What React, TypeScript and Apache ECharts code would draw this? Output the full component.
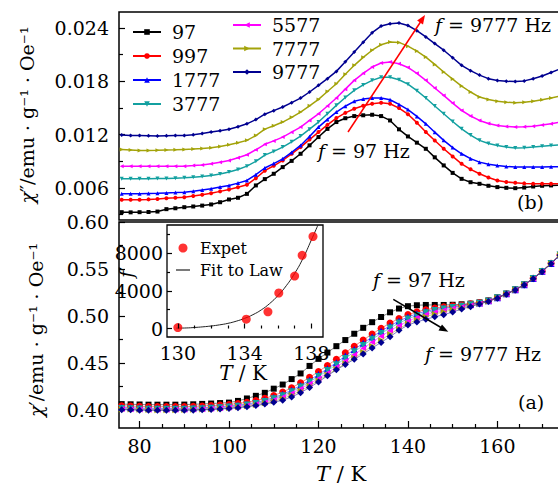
import React, { useEffect, useRef } from 'react';
import * as echarts from 'echarts';

// Temperature (K) of every measured point
const T = [76, 78, 80, 82, 84, 86, 88, 90, 92, 94, 96, 98, 100, 102, 104, 106, 108, 110, 112, 114, 116, 118, 120, 122, 124, 126, 128, 130, 132, 134, 136, 138, 140, 142, 144, 146, 148, 150, 152, 154, 156, 158, 160, 162, 164, 166, 168, 170, 172, 174];

// Panel (b): chi'' (emu g^-1 Oe^-1)
const chi2_97 = [0.00328, 0.00326, 0.00328, 0.0033, 0.00335, 0.00362, 0.00372, 0.00384, 0.00392, 0.00402, 0.00415, 0.0044, 0.00471, 0.0049, 0.00534, 0.00629, 0.007, 0.0076, 0.00835, 0.00905, 0.00985, 0.0108, 0.01173, 0.01265, 0.01342, 0.01385, 0.01409, 0.01418, 0.01424, 0.01409, 0.0136, 0.0126, 0.0118, 0.0111, 0.01041, 0.00945, 0.00854, 0.0077, 0.00703, 0.00665, 0.00647, 0.00625, 0.0061, 0.00602, 0.00598, 0.00605, 0.00617, 0.00625, 0.00629, 0.00632];
const chi2_997 = [0.00467, 0.00467, 0.00468, 0.00472, 0.00477, 0.00484, 0.0049, 0.00497, 0.0051, 0.00525, 0.00542, 0.00562, 0.00584, 0.00608, 0.00636, 0.0071, 0.00795, 0.0085, 0.0091, 0.00985, 0.0106, 0.01145, 0.01229, 0.0131, 0.01387, 0.01445, 0.01491, 0.01525, 0.01548, 0.01559, 0.01548, 0.01499, 0.0143, 0.01335, 0.01229, 0.01135, 0.01041, 0.00955, 0.00872, 0.0081, 0.0076, 0.00718, 0.00685, 0.00668, 0.00658, 0.00652, 0.00647, 0.00647, 0.00647, 0.00647];
const chi2_1777 = [0.00534, 0.00534, 0.00534, 0.00537, 0.0054, 0.00544, 0.00548, 0.00553, 0.00564, 0.00577, 0.00591, 0.0061, 0.00629, 0.00655, 0.00685, 0.0075, 0.00825, 0.00875, 0.00928, 0.01, 0.01079, 0.0118, 0.01285, 0.01372, 0.01454, 0.0152, 0.01575, 0.016, 0.01612, 0.01612, 0.01593, 0.0154, 0.01482, 0.01405, 0.01322, 0.01228, 0.01136, 0.01055, 0.00985, 0.0093, 0.00891, 0.00868, 0.00854, 0.00842, 0.00835, 0.00835, 0.00835, 0.00836, 0.00838, 0.0084];
const chi2_3777 = [0.00703, 0.00703, 0.00703, 0.00704, 0.00706, 0.00708, 0.00711, 0.00714, 0.00722, 0.0073, 0.00741, 0.00758, 0.00779, 0.00808, 0.00846, 0.009, 0.0097, 0.01012, 0.0106, 0.0112, 0.01184, 0.01262, 0.01342, 0.01435, 0.0153, 0.01618, 0.01699, 0.0176, 0.01811, 0.01845, 0.01845, 0.01818, 0.01768, 0.01695, 0.01612, 0.01522, 0.01435, 0.01348, 0.01266, 0.01195, 0.01136, 0.011, 0.01079, 0.0106, 0.01049, 0.01052, 0.0106, 0.0107, 0.01079, 0.01086];
const chi2_5577 = [0.00846, 0.00845, 0.00844, 0.00844, 0.00845, 0.00845, 0.00846, 0.00846, 0.00852, 0.0086, 0.00872, 0.0089, 0.0091, 0.0094, 0.00974, 0.0103, 0.01092, 0.0113, 0.01173, 0.01228, 0.01285, 0.0136, 0.01435, 0.01522, 0.01612, 0.01712, 0.01811, 0.0189, 0.01961, 0.02006, 0.02017, 0.01998, 0.01956, 0.0189, 0.01811, 0.01725, 0.01642, 0.01555, 0.01473, 0.0141, 0.0136, 0.01325, 0.01304, 0.01292, 0.01285, 0.01288, 0.01296, 0.01308, 0.01322, 0.0134];
const chi2_7777 = [0.01034, 0.01028, 0.01022, 0.01022, 0.01024, 0.01028, 0.0103, 0.01034, 0.01038, 0.01044, 0.01052, 0.01068, 0.01086, 0.01108, 0.01136, 0.0119, 0.01262, 0.013, 0.01342, 0.01395, 0.01454, 0.01525, 0.01597, 0.01685, 0.01773, 0.0188, 0.0198, 0.0207, 0.0215, 0.02212, 0.02242, 0.02238, 0.02196, 0.0214, 0.02073, 0.0199, 0.01905, 0.01825, 0.01747, 0.0168, 0.01623, 0.01595, 0.01575, 0.01565, 0.01559, 0.01565, 0.01575, 0.01592, 0.01612, 0.01634];
const chi2_9777 = [0.01196, 0.01192, 0.0119, 0.01188, 0.01186, 0.01188, 0.0119, 0.01192, 0.012, 0.01212, 0.01229, 0.01244, 0.01262, 0.0129, 0.01322, 0.0137, 0.0143, 0.0147, 0.01511, 0.0156, 0.01612, 0.0168, 0.01755, 0.0183, 0.01912, 0.0202, 0.0213, 0.0224, 0.02347, 0.02422, 0.02448, 0.02456, 0.02428, 0.0237, 0.023, 0.02225, 0.0215, 0.02065, 0.0198, 0.0192, 0.0187, 0.0183, 0.0181, 0.018, 0.01798, 0.01805, 0.0183, 0.0186, 0.019, 0.0194];

// Panel (a): chi' (emu g^-1 Oe^-1)
const chi1_97 = [0.4064, 0.4062, 0.406, 0.4058, 0.4058, 0.4058, 0.4058, 0.4059, 0.4062, 0.4066, 0.407, 0.4075, 0.408, 0.4098, 0.4124, 0.4152, 0.4184, 0.4228, 0.4272, 0.433, 0.439, 0.447, 0.4545, 0.4612, 0.468, 0.4745, 0.4812, 0.4875, 0.4935, 0.499, 0.504, 0.508, 0.5105, 0.5115, 0.5118, 0.5118, 0.5118, 0.512, 0.5125, 0.5132, 0.5145, 0.5165, 0.5198, 0.5238, 0.5282, 0.5336, 0.5402, 0.5478, 0.5562, 0.5652];
const chi1_997 = [0.4045, 0.4043, 0.404, 0.4038, 0.4037, 0.4037, 0.4037, 0.4038, 0.404, 0.4044, 0.4048, 0.4053, 0.406, 0.407, 0.4084, 0.4102, 0.4125, 0.4155, 0.4192, 0.4238, 0.429, 0.4348, 0.441, 0.4475, 0.454, 0.461, 0.468, 0.4745, 0.481, 0.487, 0.4925, 0.4975, 0.5015, 0.5045, 0.5068, 0.5085, 0.5098, 0.5108, 0.5118, 0.513, 0.5145, 0.5165, 0.5197, 0.5237, 0.5281, 0.5335, 0.5401, 0.5477, 0.5561, 0.5651];
const chi1_1777 = [0.4028, 0.4025, 0.4022, 0.402, 0.4019, 0.4019, 0.4019, 0.402, 0.4022, 0.4025, 0.403, 0.4036, 0.4043, 0.4052, 0.4065, 0.4082, 0.4104, 0.4133, 0.4168, 0.4212, 0.4262, 0.4318, 0.4378, 0.444, 0.4505, 0.4575, 0.4645, 0.4712, 0.4778, 0.484, 0.4897, 0.4948, 0.499, 0.5025, 0.505, 0.507, 0.5085, 0.5098, 0.511, 0.5124, 0.514, 0.5162, 0.5196, 0.5236, 0.528, 0.5334, 0.54, 0.5476, 0.556, 0.565];
const chi1_3777 = [0.4018, 0.4015, 0.4012, 0.401, 0.4009, 0.4009, 0.4009, 0.401, 0.4012, 0.4015, 0.402, 0.4026, 0.4033, 0.4042, 0.4055, 0.4071, 0.4092, 0.412, 0.4154, 0.4196, 0.4245, 0.43, 0.4358, 0.442, 0.4483, 0.455, 0.462, 0.4687, 0.4753, 0.4815, 0.4873, 0.4925, 0.497, 0.5007, 0.5035, 0.5058, 0.5076, 0.5091, 0.5105, 0.512, 0.5137, 0.516, 0.5195, 0.5235, 0.5279, 0.5333, 0.5399, 0.5475, 0.5559, 0.5649];
const chi1_5577 = [0.4012, 0.401, 0.4007, 0.4005, 0.4004, 0.4004, 0.4004, 0.4005, 0.4007, 0.401, 0.4015, 0.402, 0.4027, 0.4036, 0.4048, 0.4063, 0.4082, 0.4108, 0.414, 0.418, 0.4227, 0.428, 0.4336, 0.4396, 0.4458, 0.4522, 0.459, 0.4657, 0.4722, 0.4785, 0.4845, 0.4898, 0.4946, 0.4985, 0.5016, 0.5041, 0.5062, 0.508, 0.5096, 0.5113, 0.5132, 0.5157, 0.5193, 0.5234, 0.5278, 0.5332, 0.5398, 0.5474, 0.5558, 0.5648];
const chi1_7777 = [0.4008, 0.4006, 0.4003, 0.4001, 0.4, 0.4, 0.4, 0.4001, 0.4003, 0.4006, 0.401, 0.4015, 0.4022, 0.403, 0.4041, 0.4055, 0.4072, 0.4095, 0.4123, 0.416, 0.4205, 0.4258, 0.4316, 0.4376, 0.4436, 0.4495, 0.4556, 0.4618, 0.4682, 0.4746, 0.4808, 0.4866, 0.492, 0.4962, 0.4995, 0.5022, 0.5045, 0.5067, 0.5088, 0.5108, 0.513, 0.5155, 0.5192, 0.5233, 0.5277, 0.5331, 0.5397, 0.5473, 0.5557, 0.5647];
const chi1_9777 = [0.4005, 0.4003, 0.4, 0.3998, 0.3998, 0.3998, 0.3998, 0.3999, 0.4, 0.4003, 0.4007, 0.4012, 0.4018, 0.4025, 0.4035, 0.4048, 0.4064, 0.4083, 0.4106, 0.414, 0.4185, 0.424, 0.43, 0.4365, 0.4428, 0.4485, 0.454, 0.4598, 0.466, 0.472, 0.478, 0.4848, 0.4905, 0.4938, 0.4965, 0.4992, 0.5015, 0.5042, 0.5075, 0.51, 0.5128, 0.5155, 0.519, 0.5232, 0.5276, 0.533, 0.5396, 0.5472, 0.5556, 0.5646];

// Inset: peak temperature vs frequency
const insetT = [130.0, 134.1, 135.4, 136.05, 137.0, 137.45, 138.1];
const insetF = [97, 997, 1777, 3777, 5577, 7777, 9777];
const fitT = [129.9, 130.5, 131, 131.5, 132, 132.5, 133, 133.5, 134, 134.5, 135, 135.5, 136, 136.5, 137, 137.5, 138, 138.4];
const fitF = [40, 60, 110, 180, 270, 390, 550, 780, 1080, 1470, 1980, 2650, 3500, 4550, 5850, 7450, 9400, 11000];

// Tick values
const xMajor = [80, 100, 120, 140, 160];
const xMinor = [85, 90, 95, 105, 110, 115, 125, 130, 135, 145, 150, 155, 165, 170];
const yTopMajor = [0.006, 0.012, 0.018, 0.024];
const yTopMinor = [0.003, 0.009, 0.015, 0.021];
const yBotMajor = [0.4, 0.45, 0.5, 0.55, 0.6];
const yBotMinor = [0.425, 0.475, 0.525, 0.575];
const inXMajor = [130, 134, 138];
const inXMinor = [131, 132, 133, 135, 136, 137];
const inYMajor = [0, 4000, 8000];
const inYMinor = [2000, 6000, 10000];

const names = ['97', '997', '1777', '3777', '5577', '7777', '9777'];
const topData = [chi2_97, chi2_997, chi2_1777, chi2_3777, chi2_5577, chi2_7777, chi2_9777];
const botData = [chi1_97, chi1_997, chi1_1777, chi1_3777, chi1_5577, chi1_7777, chi1_9777];

const FONT = 'DejaVu Serif';
const STY = [
  { color: '#000000', symbol: 'rect', rot: 0, bs: 6 },
  { color: '#ff0000', symbol: 'circle', rot: 0, bs: 7 },
  { color: '#0000ff', symbol: 'triangle', rot: 0, bs: 7 },
  { color: '#13a0a0', symbol: 'triangle', rot: 180, bs: 7 },
  { color: '#ff00ff', symbol: 'triangle', rot: 90, bs: 6 },
  { color: '#a3a30a', symbol: 'triangle', rot: -90, bs: 6 },
  { color: '#000090', symbol: 'diamond', rot: 0, bs: 7 },
];

const pairs = (xs: number[], ys: number[]) => xs.map((x, i) => [x, ys[i]]);
const txt = { fontFamily: FONT, fontSize: 19, color: '#000' };
const italicRich = (size: number) => ({ i: { fontFamily: FONT, fontSize: size, fontStyle: 'italic', fill: '#000', color: '#000' }, n: { fontFamily: FONT, fontSize: size, fill: '#000', color: '#000' } });

function tickAxis(grid: number, min: number, max: number, major: number[], minor: number[], isX: boolean, fmt: (v: number) => string, labelMargin: number, majorLen: number, minorLen: number, z = 0) {
  const base = {
    type: 'value', gridIndex: grid, min, max, z,
    position: isX ? 'bottom' : 'left',
    axisLine: { show: false },
    splitLine: { show: false },
  };
  return [
    {
      ...base,
      axisTick: { show: true, inside: true, length: majorLen, customValues: major, lineStyle: { color: '#000', width: 1.2 } },
      axisLabel: { show: true, customValues: major, formatter: fmt, margin: labelMargin, ...txt },
    },
    {
      ...base,
      axisTick: { show: true, inside: true, length: minorLen, customValues: minor, lineStyle: { color: '#000', width: 1.2 } },
      axisLabel: { show: false },
    },
  ];
}

function richText(x: number, y: number, text: string, size: number, rotation = 0, align = 'left') {
  return {
    type: 'text', x, y, z: 100, rotation,
    style: {
      text, rich: italicRich(size),
      fontFamily: FONT, fontSize: size, fill: '#000', align, verticalAlign: 'middle',
    },
  };
}

function buildOption() {
  const topSeries = names.map((n, k) => ({
    type: 'line', name: n, xAxisIndex: 0, yAxisIndex: 0,
    data: pairs(T, topData[k]),
    symbol: STY[k].symbol, symbolRotate: STY[k].rot, symbolSize: 4, showAllSymbol: true,
    itemStyle: { color: STY[k].color },
    lineStyle: { color: STY[k].color, width: 1.5 },
    z: 3 + k,
  }));
  const botSeries = names.map((n, k) => ({
    type: 'line', name: n, xAxisIndex: 1, yAxisIndex: 2,
    data: pairs(T, botData[k]),
    symbol: STY[k].symbol, symbolRotate: STY[k].rot, symbolSize: STY[k].bs, showAllSymbol: true,
    itemStyle: { color: STY[k].color },
    lineStyle: { color: STY[k].color, width: 1, opacity: 0.5 },
    z: 3 + k,
  }));
  const xTop = {
    type: 'value', gridIndex: 0, min: 75.4, max: 174, position: 'bottom',
    axisLine: { show: false }, axisTick: { show: false }, axisLabel: { show: false }, splitLine: { show: false },
  };
  const xBot = tickAxis(1, 75.4, 174, xMajor, xMinor, true, (v) => String(v), 8, 7, 4);
  const xIn = tickAxis(2, 129.35, 138.7, inXMajor, inXMinor, true, (v) => String(v), 6, 5, 3, 30);
  const yTop = tickAxis(0, 0.0024, 0.0258, yTopMajor, yTopMinor, false, (v) => v.toFixed(3), 10, 6, 4);
  const yBot = tickAxis(1, 0.381, 0.6, yBotMajor, yBotMinor, false, (v) => v.toFixed(2), 10, 6, 4);
  const yIn = tickAxis(2, -900, 11000, inYMajor, inYMinor, false, (v) => String(v), 4, 5, 3, 30);

  const gridBase = { show: true, borderColor: '#000', containLabel: false, outerBoundsMode: 'none' };

  return {
    animation: false,
    backgroundColor: '#fff',
    textStyle: { fontFamily: FONT },
    grid: [
      { ...gridBase, left: 119, top: 12, width: 441, height: 208, borderWidth: 1.5, backgroundColor: 'transparent' },
      { ...gridBase, left: 119, top: 222, width: 441, height: 206, borderWidth: 1.5, backgroundColor: 'transparent' },
      { ...gridBase, left: 167, top: 225, width: 156, height: 112, borderWidth: 1.3, backgroundColor: '#fff', z: 1 },
    ],
    xAxis: [xTop, ...xBot, ...xIn],
    yAxis: [...yTop, ...yBot, ...yIn],
    legend: [
      {
        data: names.slice(0, 4), orient: 'vertical', left: 127, top: 17, itemWidth: 28, itemHeight: 7, itemGap: 4,
        selectedMode: false, textStyle: { ...txt, lineHeight: 20, padding: [0, 0, 0, 6] },
      },
      {
        data: names.slice(4), orient: 'vertical', left: 227, top: 10, itemWidth: 28, itemHeight: 7, itemGap: 3.5,
        selectedMode: false, textStyle: { ...txt, lineHeight: 20, padding: [0, 0, 0, 6] },
      },
      {
        data: [
          { name: 'Expet', icon: 'circle' },
          { name: 'Fit to Law', icon: 'path://M0 0 L14 0 L14 1.2 L0 1.2 Z' },
        ],
        orient: 'vertical', left: 171, top: 234, itemWidth: 14, itemHeight: 9, itemGap: 4,
        selectedMode: false, textStyle: { ...txt, fontSize: 16, lineHeight: 18, padding: [0, 0, 0, 5] },
      },
    ],
    series: [
      ...topSeries,
      ...botSeries,
      {
        type: 'line', name: 'Fit to Law', xAxisIndex: 3, yAxisIndex: 4, data: pairs(fitT, fitF), smooth: true,
        symbol: 'none', lineStyle: { color: '#222', width: 1 }, itemStyle: { color: '#222' }, z: 10,
      },
      {
        type: 'scatter', name: 'Expet', xAxisIndex: 3, yAxisIndex: 4, data: pairs(insetT, insetF),
        symbol: 'circle', symbolSize: 9, itemStyle: { color: '#ff0000' }, z: 11,
      },
    ],
    graphic: [
      // axis titles
      richText(27, 115, '{i|χ}{n|″/emu · g⁻¹ · Oe⁻¹}', 19, Math.PI / 2, 'center'),
      richText(36, 330, '{i|χ}{n|′/emu · g⁻¹ · Oe⁻¹}', 19, Math.PI / 2, 'center'),
      richText(341, 474, '{i|T}{n| / K}', 21, 0, 'center'),
      richText(243, 373, '{i|T}{n| / K}', 20, 0, 'center'),
      richText(126, 272, '{i|f}{n|′}', 19, Math.PI / 2, 'center'),
      // annotations
      richText(435, 25, '{i|f}{n| = 9777 Hz}', 19),
      richText(318, 151, '{i|f}{n| = 97 Hz}', 19),
      richText(373, 280, '{i|f}{n| = 97 Hz}', 19),
      richText(425, 354, '{i|f}{n| = 9777 Hz}', 19),
      { type: 'text', x: 517, y: 202, z: 100, style: { text: '(b)', fontFamily: FONT, fontSize: 19, fill: '#000', align: 'left', verticalAlign: 'middle' } },
      { type: 'text', x: 518, y: 402, z: 100, style: { text: '(a)', fontFamily: FONT, fontSize: 19, fill: '#000', align: 'left', verticalAlign: 'middle' } },
      { type: 'line', z: 100, shape: { x1: 348, y1: 132, x2: 420.5, y2: 22 }, style: { stroke: '#ff0000', lineWidth: 1.5 } },
      { type: 'polygon', z: 100, shape: { points: [[425, 15], [423, 24.5], [417.1, 20.6]] }, style: { fill: '#ff0000' } },
      { type: 'line', z: 100, shape: { x1: 393.3, y1: 299.3, x2: 441, y2: 327.5 }, style: { stroke: '#000', lineWidth: 1.5 } },
      { type: 'polygon', z: 100, shape: { points: [[448.3, 331.7], [438.5, 330.5], [442, 324.4]] }, style: { fill: '#000' } },
    ],
  };
}

export default function App() {
  const ref = useRef<HTMLDivElement>(null);
  useEffect(() => {
    if (!ref.current) return;
    const chart = echarts.init(ref.current, null, { renderer: 'svg' });
    chart.setOption(buildOption() as any);
    return () => chart.dispose();
  }, []);
  return <div ref={ref} style={{ position: 'fixed', left: 0, top: 0, width: 558, height: 485, background: '#fff' }} />;
}
